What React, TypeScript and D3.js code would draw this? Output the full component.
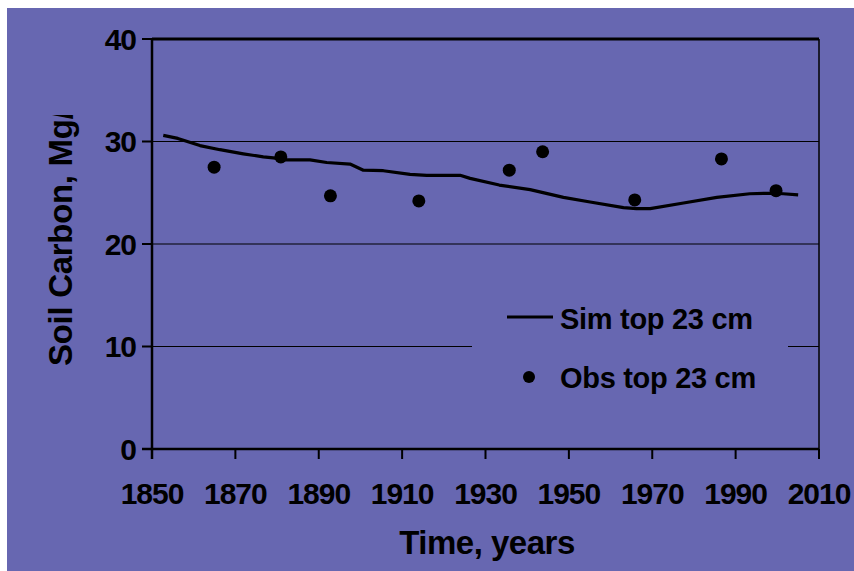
import React from "react";
import * as d3 from "d3";

const simYears = [1852.7, 1856.2, 1861.5, 1866.3, 1871.9, 1876.7, 1879.1, 1882.3, 1887.9, 1891.9, 1897.5, 1900.7, 1905.5, 1911.9, 1915.9, 1923.9, 1926.3, 1933.3, 1940.7, 1948.7, 1955.1, 1963.1, 1966.2, 1969.5, 1977.5, 1985.5, 1993.4, 1998.2, 2001.4, 2005];
const simValues = [30.6, 30.3, 29.6, 29.2, 28.8, 28.5, 28.4, 28.2, 28.2, 27.95, 27.8, 27.2, 27.15, 26.8, 26.7, 26.7, 26.4, 25.75, 25.3, 24.55, 24.1, 23.55, 23.45, 23.45, 24.0, 24.55, 24.9, 24.95, 24.9, 24.8];

const obsYears = [1864.9, 1880.9, 1892.8, 1914.0, 1935.7, 1943.7, 1965.8, 1986.6, 1999.7];
const obsValues = [27.5, 28.5, 24.7, 24.2, 27.2, 29.0, 24.3, 28.3, 25.2];

const xTicks = [1850, 1870, 1890, 1910, 1930, 1950, 1970, 1990, 2010];
const yTicks = [0, 10, 20, 30, 40];
const gridValues = [10, 20, 30];

const legendLabels = ["Sim top 23 cm", "Obs top 23 cm"];
const xTitle = "Time, years";
const yTitle = "Soil Carbon, Mg/ha";

const BG = "#6767B1";
const FONT = "'Liberation Sans', Arial, sans-serif";

export default function App() {
  const left = 152, right = 819, top = 39, bottom = 449;
  const x = d3.scaleLinear().domain([1850, 2010]).range([left, right]);
  const y = d3.scaleLinear().domain([0, 40]).range([bottom, top]);
  const line = d3
    .line<number>()
    .x((_, i) => x(simYears[i]))
    .y((d) => y(d))
    .curve(d3.curveLinear);

  return (
    <svg
      width={854}
      height={571}
      style={{ position: "absolute", left: 0, top: 0, display: "block" }}
    >
      <defs>
        <clipPath id="ytclip">
          <rect x={0} y={115} width={140} height={400} />
        </clipPath>
      </defs>
      <rect x={0} y={0} width={854} height={571} fill="#ffffff" />
      <rect x={7} y={8} width={847} height={563} fill={BG} />

      {gridValues.map((v) => (
        <line key={v} x1={left} x2={right} y1={y(v)} y2={y(v)} stroke="#000" strokeWidth={1.2} />
      ))}
      <line x1={left} x2={right} y1={top} y2={top} stroke="#000" strokeWidth={3} />
      <line x1={right} x2={right} y1={top} y2={bottom} stroke="#000" strokeWidth={1.5} />

      <rect x={472} y={290} width={316} height={115} fill={BG} />

      <line x1={left} x2={left} y1={top - 1} y2={bottom + 10} stroke="#000" strokeWidth={2.5} />
      <line x1={left - 10} x2={right} y1={bottom} y2={bottom} stroke="#000" strokeWidth={2.5} />
      {yTicks.map((t) => (
        <g key={t}>
          <line x1={left - 10} x2={left} y1={y(t)} y2={y(t)} stroke="#000" strokeWidth={2} />
          <text
            x={136}
            y={y(t)}
            dy="0.36em"
            textAnchor="end"
            fontFamily={FONT}
            fontWeight="bold"
            fontSize={30}
            fill="#000"
            letterSpacing={-1}
          >
            {t}
          </text>
        </g>
      ))}
      {xTicks.map((t) => (
        <g key={t}>
          <line x1={x(t)} x2={x(t)} y1={bottom} y2={bottom + 10} stroke="#000" strokeWidth={2} />
          <text
            x={x(t)}
            y={504}
            textAnchor="middle"
            fontFamily={FONT}
            fontWeight="bold"
            fontSize={30}
            fill="#000"
            letterSpacing={-1}
          >
            {t}
          </text>
        </g>
      ))}

      <path d={line(simValues) || ""} fill="none" stroke="#000" strokeWidth={3.2} strokeLinejoin="round" />

      {obsValues.map((v, i) => (
        <circle key={i} cx={x(obsYears[i])} cy={y(v)} r={6.5} fill="#000" />
      ))}

      <line x1={507} x2={553} y1={317} y2={317} stroke="#000" strokeWidth={3} />
      <text x={560} y={329} fontFamily={FONT} fontWeight="bold" fontSize={29} fill="#000" letterSpacing={-0.3}>
        {legendLabels[0]}
      </text>
      <circle cx={529} cy={377} r={6} fill="#000" />
      <text x={560} y={388} fontFamily={FONT} fontWeight="bold" fontSize={29} fill="#000" letterSpacing={-0.3}>
        {legendLabels[1]}
      </text>

      <text
        x={487}
        y={554}
        textAnchor="middle"
        fontFamily={FONT}
        fontWeight="bold"
        fontSize={33}
        fill="#000"
        letterSpacing={-0.5}
      >
        {xTitle}
      </text>
      <g clipPath="url(#ytclip)">
        <text
          transform="translate(72,366) rotate(-90)"
          textAnchor="start"
          fontFamily={FONT}
          fontWeight="bold"
          fontSize={33}
          fill="#000"
          letterSpacing={-0.3}
        >
          {yTitle}
        </text>
      </g>
    </svg>
  );
}
